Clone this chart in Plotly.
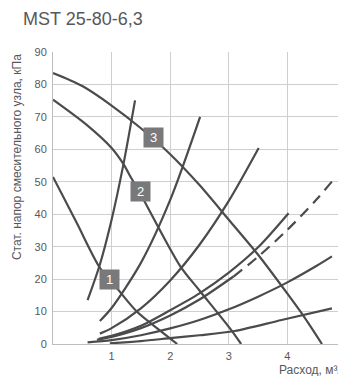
import plotly.graph_objects as go

# ---- data ----
pump1_x = [0, 0.4, 0.8, 1.1, 1.43, 1.8, 2.12]
pump1_y = [51.5, 37.5, 23.5, 17, 10, 4.5, 0]

pump2_x = [0, 0.57, 1.0, 1.2, 1.34, 1.5, 2.17, 2.5, 3.02, 3.21]
pump2_y = [75.3, 67.6, 60.4, 55.5, 51.0, 46.0, 24.0, 16.5, 4.8, 0]

pump3_x = [0, 0.5, 1.0, 1.5, 2.0, 2.5, 3.0, 3.5, 4.0, 4.3, 4.59]
pump3_y = [83.5, 79.5, 73.5, 66.5, 58.5, 49.0, 38.3, 27.5, 15.5, 8.0, 0]

sys1_x = [0.59, 0.8, 1.0, 1.2, 1.4]
sys1_y = [13.5, 24.5, 38.3, 55.2, 75.1]

sys2_x = [0.8, 1.0, 1.5, 2.0, 2.51]
sys2_y = [7.1, 11.1, 25.0, 44.4, 70.0]

sys3_x = [0.8, 1.0, 1.5, 2.0, 2.5, 3.0, 3.51]
sys3_y = [3.2, 4.9, 11.0, 19.6, 30.6, 44.1, 60.4]

sys4_x = [0.78, 1.0, 1.5, 2.0, 2.5, 3.0, 3.5, 4.02]
sys4_y = [1.6, 2.5, 5.6, 10.4, 15.6, 22.0, 29.8, 40.3]

sys5_x = [0.75, 1.0, 1.5, 2.0, 2.5, 3.08, 3.5, 4.0, 4.5, 4.76]
sys5_y = [1.3, 2.2, 4.9, 8.8, 13.7, 20.8, 26.9, 35.2, 44.6, 50.1]
sys5_dash_from = 5  # index where the dashed part begins

sys6_x = [0.59, 1.0, 1.5, 2.0, 2.5, 3.0, 3.5, 4.0, 4.5, 4.76]
sys6_y = [0.5, 1.2, 2.7, 4.8, 7.4, 10.7, 14.6, 19.0, 24.1, 27.0]

sys7_x = [0.97, 1.5, 2.0, 2.5, 3.1, 3.9, 4.76]
sys7_y = [0.2, 0.9, 1.8, 2.7, 4.0, 7.4, 11.0]

label_text = ["1", "2", "3"]
label_x = [0.96, 1.50, 1.72]
label_y = [19.8, 46.9, 63.7]

x_ticks = [1, 2, 3, 4, 5]
y_ticks = [0, 10, 20, 30, 40, 50, 60, 70, 80, 90]

title_text = "MST 25-80-6,3"
x_title = "Расход, м³/ч"
y_title = "Стат. напор смесительного узла, кПа"

# ---- figure ----
# the page body has an 8px margin, so the figure is sized/placed to compensate
LINE = "#4b4b4d"
FONT = "Liberation Sans, Arial, sans-serif"
fig = go.Figure()

def add_line(x, y, dash="solid"):
    fig.add_trace(go.Scatter(x=x, y=y, mode="lines",
                             line=dict(color=LINE, width=2.2, shape="spline", smoothing=0.8, dash=dash),
                             hoverinfo="skip", showlegend=False))

for xs, ys in [(pump1_x, pump1_y), (pump2_x, pump2_y), (pump3_x, pump3_y),
               (sys1_x, sys1_y), (sys2_x, sys2_y), (sys3_x, sys3_y),
               (sys4_x, sys4_y), (sys6_x, sys6_y), (sys7_x, sys7_y)]:
    add_line(xs, ys)

add_line(sys5_x[:sys5_dash_from + 1], sys5_y[:sys5_dash_from + 1])
add_line(sys5_x[sys5_dash_from:], sys5_y[sys5_dash_from:], dash="11px,7px")

for t, lx, ly in zip(label_text, label_x, label_y):
    fig.add_annotation(x=lx, y=ly, text=t, showarrow=False,
                       font=dict(family=FONT, size=13, color="white"),
                       bgcolor="#79797b", width=19, height=19, borderpad=0,
                       align="center", valign="middle")

fig.add_annotation(text=title_text, xref="paper", yref="paper",
                   x=0, xshift=-32, y=1.0, yshift=33, xanchor="left", yanchor="middle",
                   showarrow=False, font=dict(family=FONT, size=18, color="#58585a"))
fig.add_annotation(text=x_title, xref="paper", yref="paper",
                   x=0, xshift=224, y=0, yshift=-26, xanchor="left", yanchor="middle",
                   showarrow=False, font=dict(family=FONT, size=12, color="#58585a"))
fig.add_annotation(text=y_title, xref="paper", yref="paper", textangle=-90,
                   x=0, xshift=-36, y=0.64, xanchor="center", yanchor="middle",
                   showarrow=False, font=dict(family=FONT, size=12, color="#58585a"))

fig.update_layout(
    width=338, height=368,
    margin=dict(l=45, r=0, t=44, b=32),
    paper_bgcolor="white", plot_bgcolor="white",
    font=dict(family=FONT, size=11, color="#58585a"),
    showlegend=False,
)
fig.update_xaxes(range=[0, 5], tickvals=x_ticks, ticktext=[str(v) for v in x_ticks],
                 showgrid=True, gridcolor="#cfcfcf", gridwidth=1,
                 showline=True, linecolor="#bdbdbd", linewidth=1,
                 zeroline=False, ticks="", fixedrange=True, automargin=False,
                 ticklabeloverflow="allow", ticklabelstandoff=2)
fig.update_yaxes(range=[0, 90], tickvals=y_ticks, ticktext=[str(v) for v in y_ticks],
                 showgrid=True, gridcolor="#cfcfcf", gridwidth=1,
                 showline=True, linecolor="#bdbdbd", linewidth=1,
                 zeroline=False, ticks="", ticklabelstandoff=3, fixedrange=True, automargin=False)

fig.write_html("out.html", config={"displayModeBar": False})
